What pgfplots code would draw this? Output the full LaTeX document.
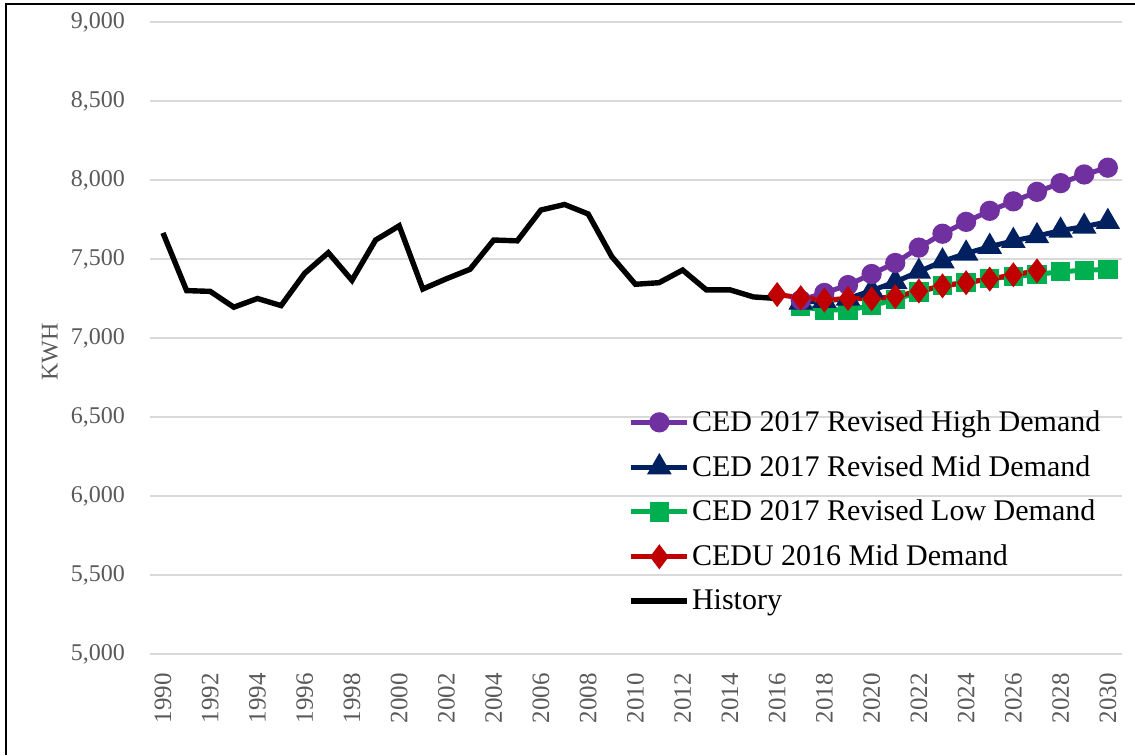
\documentclass[border=0pt]{standalone}
\usepackage{pgfplots}
\pgfplotsset{compat=1.18}
\usepackage{fontspec}
\setmainfont{Liberation Serif}
\definecolor{hiPurple}{HTML}{7030A0}
\definecolor{midNavy}{HTML}{002060}
\definecolor{lowGreen}{HTML}{00B050}
\definecolor{ceduRed}{HTML}{C00000}
\definecolor{gridGray}{HTML}{D9D9D9}
\definecolor{labelGray}{HTML}{595959}

\begin{document}
\begin{tikzpicture}
    % page box and the frame at left and top
    \useasboundingbox (-75pt,-50.5pt) rectangle (492.5pt,327pt);
    \draw[line width=1pt] (-72pt,-50.5pt) -- (-72pt,324.8pt) -- (492.5pt,324.8pt);
    \begin{axis}[
        at={(0pt,0pt)}, anchor=south west,
        scale only axis,
        width=486pt, height=316pt,
        xmin=1989.45, xmax=2030.6,
        ymin=5000, ymax=9000,
        xtick={1990,1992,...,2030},
        ytick={5000,5500,...,9000},
        ymajorgrids,
        grid style={draw=gridGray, line width=0.8pt},
        axis line style={draw=none},
        tick style={draw=none},
        major tick length=0pt,
        /pgf/number format/assume math mode=true,
        yticklabel style={/pgf/number format/1000 sep={,}, font=\fontsize{12}{14}\selectfont, text=labelGray, anchor=east, xshift=-9pt},
        xticklabel style={/pgf/number format/1000 sep={}, font=\fontsize{12.5}{14}\selectfont, text=labelGray, rotate=90, anchor=east, xshift=-6pt},
        ylabel={KWH},
        every axis y label/.style={at={(axis description cs:0,0.478)}, xshift=-50pt, rotate=90, anchor=center, font=\fontsize{12}{14}\selectfont, text=labelGray},
        legend cell align=left,
        legend style={at={(rel axis cs:0.492,0.386)}, anchor=north west, draw=none, fill=none,
            font=\fontsize{15}{18}\selectfont, row sep=10.5pt, inner sep=0pt,
            nodes={inner xsep=1pt, inner ysep=0pt}},
        legend image code/.code={\draw[mark repeat=2, mark phase=2, #1] plot coordinates {(0pt,0pt) (14pt,0pt) (28pt,0pt)};},
    ]
        % History
        \addplot[black, line width=2.7pt, forget plot] coordinates {
            (1990,7665) (1991,7300) (1992,7295) (1993,7195) (1994,7250)
            (1995,7205) (1996,7410) (1997,7540) (1998,7365) (1999,7620)
            (2000,7710) (2001,7310) (2002,7375) (2003,7435) (2004,7620)
            (2005,7615) (2006,7810) (2007,7845) (2008,7785) (2009,7515)
            (2010,7340) (2011,7350) (2012,7430) (2013,7305) (2014,7305)
            (2015,7260) (2016,7250)
        };
        % CED 2017 Revised Low Demand
        \addplot[lowGreen, line width=2.5pt, mark=square*, mark size=3.6pt, forget plot] coordinates {
            (2017,7198) (2018,7178) (2019,7178) (2020,7204) (2021,7245)
            (2022,7290) (2023,7332) (2024,7352) (2025,7375) (2026,7390)
            (2027,7402) (2028,7420) (2029,7428) (2030,7435)
        };
        % CED 2017 Revised Mid Demand
        \addplot[midNavy, line width=2.5pt, mark=triangle*, mark size=4.6pt, forget plot] coordinates {
            (2017,7225) (2018,7235) (2019,7250) (2020,7300) (2021,7355)
            (2022,7420) (2023,7485) (2024,7535) (2025,7578) (2026,7615)
            (2027,7645) (2028,7680) (2029,7705) (2030,7735)
        };
        % CED 2017 Revised High Demand
        \addplot[hiPurple, line width=2.5pt, mark=*, mark size=3.8pt, forget plot] coordinates {
            (2017,7240) (2018,7285) (2019,7335) (2020,7405) (2021,7475)
            (2022,7572) (2023,7660) (2024,7735) (2025,7805) (2026,7865)
            (2027,7925) (2028,7980) (2029,8035) (2030,8078)
        };
        % CEDU 2016 Mid Demand
        \addplot[ceduRed, line width=2.5pt, mark=diamond*, mark size=4.2pt, forget plot] coordinates {
            (2016,7275) (2017,7255) (2018,7240) (2019,7250) (2020,7248)
            (2021,7262) (2022,7297) (2023,7330) (2024,7350) (2025,7373)
            (2026,7400) (2027,7425)
        };
        % legend entries in the reference's order
        \addlegendimage{hiPurple, line width=2.5pt, mark=*, mark size=3.8pt}
        \addlegendentry{CED 2017 Revised High Demand}
        \addlegendimage{midNavy, line width=2.5pt, mark=triangle*, mark size=4.6pt}
        \addlegendentry{CED 2017 Revised Mid Demand}
        \addlegendimage{lowGreen, line width=2.5pt, mark=square*, mark size=3.6pt}
        \addlegendentry{CED 2017 Revised Low Demand}
        \addlegendimage{ceduRed, line width=2.5pt, mark=diamond*, mark size=4.2pt}
        \addlegendentry{CEDU 2016 Mid Demand}
        \addlegendimage{black, line width=2.7pt}
        \addlegendentry{History}
    \end{axis}
\end{tikzpicture}
\end{document}
